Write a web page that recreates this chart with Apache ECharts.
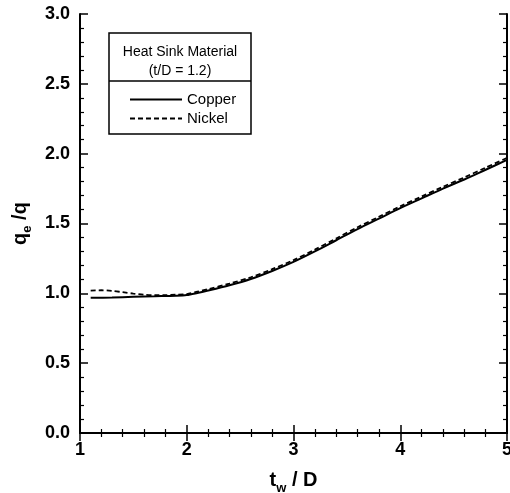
<!DOCTYPE html>
<html>
<head>
<meta charset="utf-8">
<script src="https://cdn.jsdelivr.net/npm/echarts@6/dist/echarts.min.js"></script>
<style>
  html, body { margin: 0; padding: 0; background: #fff; }
  #chart { width: 510px; height: 493px; }
</style>
</head>
<body>
<div id="chart"></div>
<script>
// t_w/D values
const copperX = [1.1, 1.3, 1.5, 1.7, 1.9, 2.0, 2.1, 2.2, 2.4, 2.6, 2.8, 3.0, 3.2, 3.4, 3.6, 3.8, 4.0, 4.2, 4.4, 4.6, 4.8, 5.0];
const copperY = [0.968, 0.970, 0.975, 0.979, 0.983, 0.988, 1.003, 1.02, 1.058, 1.103, 1.16, 1.225, 1.30, 1.38, 1.46, 1.535, 1.61, 1.68, 1.75, 1.815, 1.885, 1.955];
const nickelX = [1.1, 1.2, 1.3, 1.4, 1.5, 1.6, 1.7, 1.8, 1.9, 2.0, 2.1, 2.2, 2.4, 2.6, 2.8, 3.0, 3.2, 3.4, 3.6, 3.8, 4.0, 4.2, 4.4, 4.6, 4.8, 5.0];
const nickelY = [1.02, 1.022, 1.018, 1.008, 0.998, 0.99, 0.987, 0.987, 0.99, 0.995, 1.012, 1.03, 1.07, 1.115, 1.173, 1.238, 1.313, 1.393, 1.473, 1.548, 1.623, 1.693, 1.763, 1.83, 1.9, 1.97];
const legendTitle = ['Heat Sink Material', '(t/D = 1.2)'];

const chart = echarts.init(document.getElementById('chart'));
const font = 'Liberation Sans, Arial, sans-serif';
const axisCommon = {
  type: 'value',
  axisLine: { lineStyle: { color: '#000', width: 2 } },
  axisTick: { inside: true, length: 8, lineStyle: { color: '#000', width: 1.5 } },
  minorTick: { show: true, splitNumber: 5, length: 4, lineStyle: { color: '#000', width: 1.2 } },
  splitLine: { show: false }
};

const option = {
  backgroundColor: '#fff',
  animation: false,
  grid: { left: 80, right: 3, top: 14, bottom: 60, outerBoundsMode: 'none' },
  xAxis: [
    Object.assign({}, axisCommon, {
      min: 1, max: 5, interval: 1,
      axisLabel: { color: '#000', fontSize: 18, fontWeight: 'bold', fontFamily: font, margin: 8 },
      name: '{a|t}{s|w}{a| / D}',
      nameLocation: 'middle',
      nameGap: 33,
      nameTextStyle: {
        rich: {
          a: { fontSize: 20, fontWeight: 'bold', fontFamily: font, color: '#000' },
          s: { fontSize: 13, fontWeight: 'bold', fontFamily: font, color: '#000', padding: [16, 0, 0, 0] }
        }
      }
    }),
    Object.assign({}, axisCommon, {
      min: 1, max: 5, interval: 1, position: 'top',
      axisLabel: { show: false }
    })
  ],
  yAxis: [
    Object.assign({}, axisCommon, {
      min: 0, max: 3, interval: 0.5,
      axisLabel: {
        color: '#000', fontSize: 18, fontWeight: 'bold', fontFamily: font, margin: 10,
        formatter: v => v.toFixed(1)
      },
      name: '{a|q}{s|e}{a| /q}',
      nameLocation: 'middle',
      nameRotate: 90,
      nameGap: 46,
      nameTextStyle: {
        rich: {
          a: { fontSize: 20, fontWeight: 'bold', fontFamily: font, color: '#000' },
          s: { fontSize: 13, fontWeight: 'bold', fontFamily: font, color: '#000', padding: [14, 0, 0, 0] }
        }
      }
    }),
    Object.assign({}, axisCommon, {
      min: 0, max: 3, interval: 0.5, position: 'right',
      axisLabel: { show: false }
    })
  ],
  legend: {
    orient: 'vertical',
    left: 124,
    top: 87,
    z: 200,
    itemWidth: 52,
    itemHeight: 10,
    itemGap: 4,
    itemStyle: { opacity: 0, borderWidth: 0 },
    textStyle: { color: '#000', fontSize: 15, fontFamily: font },
    data: ['Copper', 'Nickel']
  },
  graphic: [
    { type: 'rect', shape: { x: 109, y: 33, width: 142, height: 101 }, style: { fill: '#fff', stroke: '#000', lineWidth: 1.5 }, z: 100 },
    { type: 'line', shape: { x1: 109, y1: 81, x2: 251, y2: 81 }, style: { stroke: '#000', lineWidth: 1.5 }, z: 101 },
    { type: 'text', x: 180, y: 52, style: { text: legendTitle[0], fill: '#000', font: '14px ' + font, textAlign: 'center', textVerticalAlign: 'middle' }, z: 101 },
    { type: 'text', x: 180, y: 71, style: { text: legendTitle[1], fill: '#000', font: '14px ' + font, textAlign: 'center', textVerticalAlign: 'middle' }, z: 101 }
  ],
  series: [
    {
      name: 'Copper', type: 'line', showSymbol: false, symbol: 'none', smooth: 0.3,
      lineStyle: { color: '#000', width: 2 },
      itemStyle: { color: '#000' },
      data: copperX.map((x, i) => [x, copperY[i]])
    },
    {
      name: 'Nickel', type: 'line', showSymbol: false, symbol: 'none', smooth: 0.3,
      lineStyle: { color: '#000', width: 1.8, type: [5, 3] },
      itemStyle: { color: '#000' },
      data: nickelX.map((x, i) => [x, nickelY[i]])
    }
  ]
};
chart.setOption(option);
</script>
</body>
</html>
